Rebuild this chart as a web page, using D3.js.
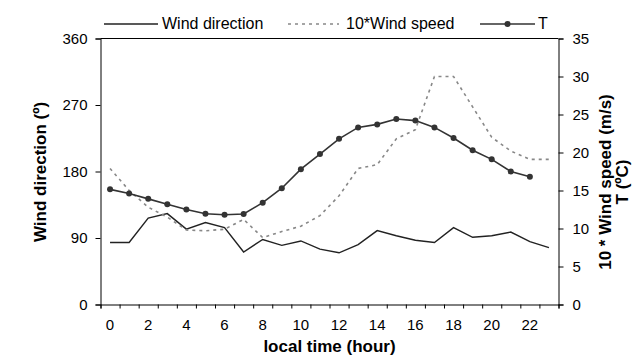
<!DOCTYPE html>
<html>
<head>
<meta charset="utf-8">
<script src="https://cdn.jsdelivr.net/npm/d3@7"></script>
<style>
  html, body { margin: 0; padding: 0; background: #fff; }
  svg { display: block; font-family: "Liberation Sans", Arial, sans-serif; }
</style>
</head>
<body>
<svg id="chart" width="640" height="357"></svg>
<script>
// Hourly categories (local time)
const hours = [0,1,2,3,4,5,6,7,8,9,10,11,12,13,14,15,16,17,18,19,20,21,22,23];
const hourTickLabels = [0,2,4,6,8,10,12,14,16,18,20,22];

// Wind direction (degrees), left axis
const windDirection = [84,84,117,123,102,111,104,71,88,80,86,75,70,81,100,93,87,84,104,91,93,98,85,77];

// 10 * wind speed (m/s), right axis
const windSpeed10 = [17.9,15.0,12.8,11.5,9.8,9.7,9.9,11.2,8.8,9.6,10.3,11.7,14.3,17.9,18.4,21.8,23.0,30.0,30.0,26.0,22.0,20.2,19.1,19.1];

// Air temperature (ºC), right axis, hours 0..22
const temperature = [15.15,14.6,13.9,13.2,12.5,11.95,11.8,11.9,13.4,15.3,17.8,19.8,21.8,23.3,23.7,24.4,24.2,23.3,21.9,20.3,19.1,17.5,16.8];

const leftTicks = [0,90,180,270,360];
const rightTicks = [0,5,10,15,20,25,30,35];

const svg = d3.select("#chart");
const plot = { left: 100.5, right: 558.5, top: 38.5, bottom: 304.5 };

const x = d3.scaleBand().domain(hours).range([plot.left, plot.right]);
const xEdge = d3.scaleLinear().domain([0, hours.length]).range([plot.left, plot.right]);
const yL = d3.scaleLinear().domain([0, 360]).range([plot.bottom, plot.top]);
const yR = d3.scaleLinear().domain([0, 35]).range([plot.bottom, plot.top]);
const cx = h => x(h) + x.bandwidth() / 2;

const tickFont = "15px";

// Left axis
const gL = svg.append("g")
  .attr("transform", `translate(${plot.left},0)`)
  .call(d3.axisLeft(yL).tickValues(leftTicks).tickSize(5).tickPadding(8));
// Right axis
const gR = svg.append("g")
  .attr("transform", `translate(${plot.right},0)`)
  .call(d3.axisRight(yR).tickValues(rightTicks).tickSize(5).tickPadding(9));
// Bottom axis: tick marks on hour boundaries
const gB = svg.append("g")
  .attr("transform", `translate(0,${plot.bottom})`)
  .call(d3.axisBottom(xEdge).tickValues(d3.range(hours.length + 1)).tickSize(4).tickFormat(""));
// Bottom axis labels centred in each hour
const gBL = svg.append("g")
  .attr("transform", `translate(0,${plot.bottom})`)
  .call(d3.axisBottom(x).tickValues(hourTickLabels).tickSize(0).tickPadding(15));
gBL.select(".domain").remove();

[gL, gR, gB, gBL].forEach(g => {
  g.selectAll("text").attr("font-size", tickFont).attr("fill", "#000")
    .attr("font-family", "Liberation Sans, Arial, sans-serif");
  g.selectAll("line").attr("stroke", "#000");
  g.select(".domain").attr("stroke", "#000");
});

// Top frame line
svg.append("line")
  .attr("x1", plot.left).attr("x2", plot.right)
  .attr("y1", plot.top).attr("y2", plot.top)
  .attr("stroke", "#000");

// Wind direction line
svg.append("path")
  .datum(windDirection)
  .attr("fill", "none").attr("stroke", "#222").attr("stroke-width", 1.4)
  .attr("d", d3.line().x((d, i) => cx(hours[i])).y(d => yL(d)));

// 10 * wind speed dotted line
svg.append("path")
  .datum(windSpeed10)
  .attr("fill", "none").attr("stroke", "#888").attr("stroke-width", 1.6)
  .attr("stroke-dasharray", "3,4")
  .attr("d", d3.line().x((d, i) => cx(hours[i])).y(d => yR(d)));

// Temperature line with markers
svg.append("path")
  .datum(temperature)
  .attr("fill", "none").attr("stroke", "#333").attr("stroke-width", 1.6)
  .attr("d", d3.line().x((d, i) => cx(hours[i])).y(d => yR(d)));
svg.append("g").selectAll("circle")
  .data(temperature)
  .join("circle")
  .attr("cx", (d, i) => cx(hours[i]))
  .attr("cy", d => yR(d))
  .attr("r", 3)
  .attr("fill", "#333");

// Legend
const legend = svg.append("g").attr("font-size", "16px").attr("fill", "#000");
legend.append("line").attr("x1", 104).attr("x2", 158).attr("y1", 24).attr("y2", 24)
  .attr("stroke", "#222").attr("stroke-width", 1.4);
legend.append("text").attr("x", 162).attr("y", 29).text("Wind direction");
legend.append("line").attr("x1", 288).attr("x2", 339).attr("y1", 24).attr("y2", 24)
  .attr("stroke", "#888").attr("stroke-width", 1.6).attr("stroke-dasharray", "3,4");
legend.append("text").attr("x", 346).attr("y", 29).text("10*Wind speed");
legend.append("line").attr("x1", 480).attr("x2", 535).attr("y1", 24).attr("y2", 24)
  .attr("stroke", "#333").attr("stroke-width", 1.6);
legend.append("circle").attr("cx", 507.5).attr("cy", 24).attr("r", 3).attr("fill", "#333");
legend.append("text").attr("x", 538).attr("y", 29).text("T");

// Axis titles
svg.append("text")
  .attr("transform", "translate(46,172) rotate(-90)")
  .attr("text-anchor", "middle").attr("font-size", "17px").attr("font-weight", "bold")
  .text("Wind direction (º)");
svg.append("text")
  .attr("transform", "translate(611,182) rotate(-90)")
  .attr("text-anchor", "middle").attr("font-size", "17px").attr("font-weight", "bold")
  .text("10 * Wind speed (m/s)");
svg.append("text")
  .attr("transform", "translate(628,182) rotate(-90)")
  .attr("text-anchor", "middle").attr("font-size", "17px").attr("font-weight", "bold")
  .text("T (ºC)");
svg.append("text")
  .attr("x", (plot.left + plot.right) / 2).attr("y", 352)
  .attr("text-anchor", "middle").attr("font-size", "17px").attr("font-weight", "bold")
  .text("local time (hour)");
</script>
</body>
</html>
